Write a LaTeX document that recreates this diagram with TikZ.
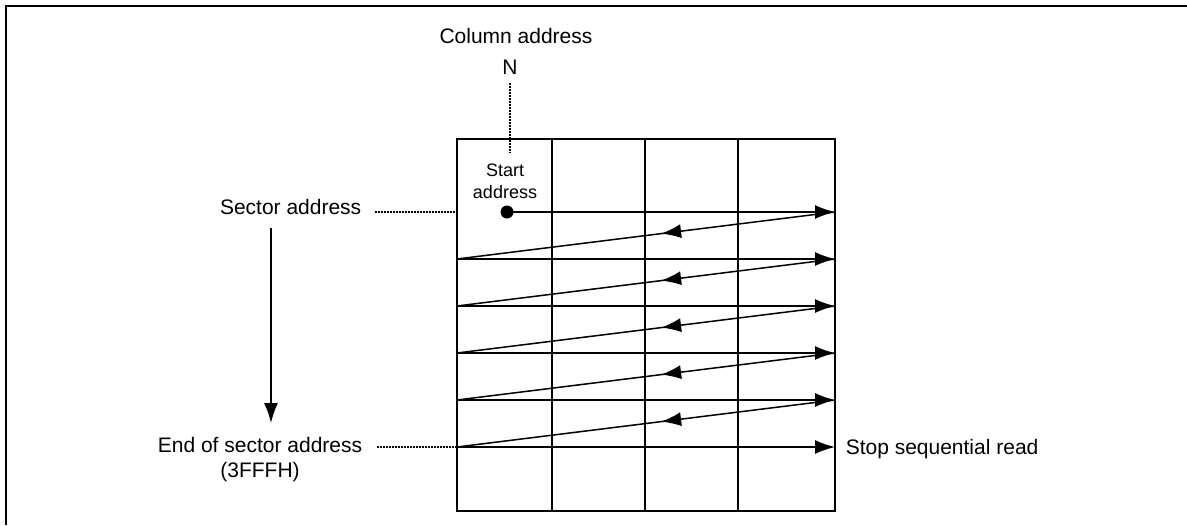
\documentclass[tikz,border=0pt]{standalone}
\usepackage{fontspec}
\setmainfont{Liberation Sans}
\usetikzlibrary{arrows.meta,decorations.markings}

\begin{document}
\begin{tikzpicture}[x=0.5pt, y=-0.5pt, line width=0.75pt,
  lbl/.style={font=\fontsize{10.5}{12.5}\selectfont, inner sep=0pt, align=center},
  small/.style={font=\fontsize{9}{11}\selectfont, inner sep=0pt, align=center},
  tip/.style={-{Latex[length=10pt,width=7pt]}},
  dots/.style={line width=0.75pt, dash pattern=on 0.75pt off 0.75pt},
  back/.style={postaction={decorate}, decoration={markings,
    mark=at position 0.46 with {\arrow{Latex[length=10pt,width=7pt]}}}},
]
\useasboundingbox (0,0) rectangle (1187,525);
\draw[line width=1.25pt] (6,525) -- (6,6) -- (1187,6);

\draw (457,139) rectangle (835,511);
\foreach \x in {552,645,738}
  \draw (\x,139) -- (\x,511);

\foreach \i/\y in {1/212,2/259,3/306,4/353,5/400,6/447} {
  \coordinate (l\i) at (457,\y);
  \coordinate (r\i) at (835,\y);
}

\node[circle, fill, inner sep=0pt, minimum size=6.5pt] (start) at (507,212) {};
\draw[tip] (start.center) -- (r1);
\foreach \i [count=\j from 2] in {1,...,5} {
  \draw[back] (r\i) -- (l\j);
  \draw[tip] (l\j) -- (r\j);
}

\node[lbl] (col) at (516,36) {Column address};
\node[lbl] (n) at (510,67) {N};
\node[small] (saddr) at (505,181) {Start\\address};
\node[lbl, anchor=east] (sec) at (362,207) {Sector address};
\node[lbl] (endsec) at (260,460) {End of sector address\\(3FFFH)};
\node[lbl, anchor=west] (stop) at (845,449) {Stop sequential read};

\coordinate (ntop) at (510,83);
\coordinate (nbot) at (510,153);
\coordinate (secdot) at (375,212);
\coordinate (enddot) at (377,447);
\coordinate (vtop) at (271,228);
\coordinate (vbot) at (271,423);

\draw[dots] (ntop) -- (nbot);
\draw[dots] (secdot) -- (l1);
\draw[dots] (enddot) -- (l6);
\draw[tip] (vtop) -- (vbot);
\end{tikzpicture}
\end{document}
